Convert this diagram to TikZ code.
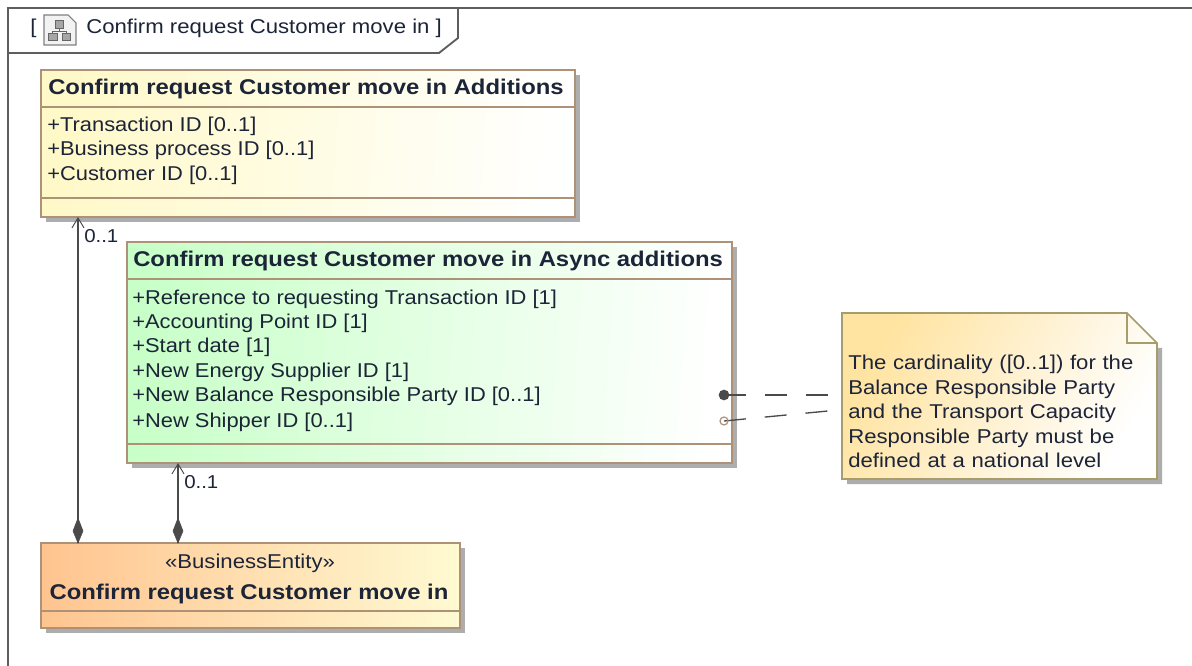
\documentclass[tikz,border=0pt]{standalone}
\usepackage{fontspec}
\setmainfont{Liberation Sans}
\newfontfamily\widef[FakeStretch=1.107]{Liberation Sans}
\newfontfamily\attrf[FakeStretch=1.095]{Liberation Sans}
\newfontfamily\wideb[FakeStretch=1.118]{Liberation Sans}
\usetikzlibrary{shadows,arrows.meta}
\definecolor{inkc}{HTML}{1C2438}
\definecolor{boxedge}{HTML}{AD9278}
\definecolor{noteedge}{HTML}{A69C6C}
\definecolor{conn}{HTML}{4A4A4A}
\definecolor{framec}{HTML}{5E5E5E}
\definecolor{yel}{HTML}{FFF9C8}
\definecolor{grn}{HTML}{C8FFC8}
\definecolor{org}{HTML}{FFC48F}
\definecolor{orgr}{HTML}{FFFAD2}
\definecolor{notec}{HTML}{FFE3A0}
\tikzset{
  x=0.75pt,y=-0.75pt,
  umlbox/.style={rectangle,draw=boxedge,line width=1.3pt,inner sep=0pt,outer sep=0pt,anchor=north west,
    drop shadow={shadow xshift=3.6pt,shadow yshift=-3.6pt,fill=black!32,opacity=1}},
  sep/.style={draw=boxedge,line width=1.1pt},
  bold/.style={font=\fontsize{16}{18}\selectfont\wideb\bfseries,text=inkc,inner sep=0pt,anchor=base west},
  attr/.style={font=\fontsize{15}{18}\selectfont\attrf,text=inkc,inner sep=0pt,anchor=base west},
  plain/.style={font=\fontsize{15}{18}\selectfont\widef,text=inkc,inner sep=0pt,anchor=base west},
  mult/.style={font=\fontsize{14}{16}\selectfont\attrf,text=inkc,inner sep=0pt,anchor=base west},
  assoc/.style={draw=conn,line width=1.3pt},
  opena/.style={-{Straight Barb[length=7.5pt,width=9pt,line width=0.7pt]}},
  diam/.style={fill=conn,draw=conn,line width=0.4pt},
  dashc/.style={draw=conn,line width=1pt,dash pattern=on 16.5pt off 14.2pt},
}
\begin{document}
\begin{tikzpicture}
\useasboundingbox (0,0) rectangle (1192,666);
\fill[white] (0,0) rectangle (1192,666);
% frame
\draw[framec,line width=1.4pt] (1192,8) -- (8,8) -- (8,666);
\draw[framec,line width=1.4pt] (8,53) -- (439,53) -- (458,38) -- (458,8);
\node[plain] (brl) at (30,34) {[};
\node[plain] (frametitle) at (86,34) {Confirm request Customer move in ]};
% icon
\draw[gray,fill=white!95!black,line width=0.8pt] (44,15) -- (68,15) -- (76,23) -- (76,45) -- (44,45) -- cycle;
\draw[black!60,fill=black!35,line width=0.7pt] (55,20) rectangle (63,28);
\draw[black!60,fill=black!35,line width=0.7pt] (48,33) rectangle (57,40);
\draw[black!60,fill=black!35,line width=0.7pt] (62,33) rectangle (70,40);
\draw[black!60,line width=0.7pt] (59,28) -- (59,31) (52,33) -- (52,31) -- (66,31) -- (66,33);
% Additions
\node[umlbox,minimum width=400.5pt,minimum height=110.25pt,left color=yel,right color=white,shading angle=86] (add) at (41,70) {};
\draw[sep] (41,107) -- (575,107) (41,198) -- (575,198);
\node[bold] (addt) at (48,95) {Confirm request Customer move in Additions};
\node[attr] (a1) at (47,132) {+Transaction ID [0..1]};
\node[attr] (a2) at (47,156) {+Business process ID [0..1]};
\node[attr] (a3) at (47,181) {+Customer ID [0..1]};
% Async
\node[umlbox,minimum width=453.75pt,minimum height=165.75pt,left color=grn,right color=white,shading angle=86] (async) at (127,242) {};
\draw[sep] (127,279) -- (732,279) (127,444) -- (732,444);
\node[bold] (asynct) at (133,267) {Confirm request Customer move in Async additions};
\node[attr] (b1) at (132,305) {+Reference to requesting Transaction ID [1]};
\node[attr] (b2) at (132,329) {+Accounting Point ID [1]};
\node[attr] (b3) at (132,353) {+Start date [1]};
\node[attr] (b4) at (132,378) {+New Energy Supplier ID [1]};
\node[attr] (b5) at (132,402) {+New Balance Responsible Party ID [0..1]};
\node[attr] (b6) at (132,427) {+New Shipper ID [0..1]};
% Entity
\node[umlbox,minimum width=314.25pt,minimum height=63.75pt,left color=org,right color=orgr] (ent) at (41,543) {};
\draw[sep] (41,611) -- (460,611);
\node[plain,anchor=base] (st) at (250,568) {«BusinessEntity»};
\node[bold,anchor=base] (entt) at (249,599) {Confirm request Customer move in};
% associations
\coordinate (x1) at (78,0);
\coordinate (x2) at (178,0);
\draw[assoc,opena] (ent.north -| x1) -- (add.south -| x1);
\draw[assoc,opena] (ent.north -| x2) -- (async.south -| x2);
\draw[diam] (78,543) -- (73,531) -- (78,518) -- (83,531) -- cycle;
\draw[diam] (178,543) -- (173,531) -- (178,518) -- (183,531) -- cycle;
\node[mult] (m1) at (84,243) {0..1};
\node[mult] (m2) at (184,488) {0..1};
% note
\fill[black!32] (847,343) -- (1162,348) -- (1162,484) -- (847,484) -- cycle;
\path[left color=notec,right color=white,shading angle=60] (842,313) -- (1127,313) -- (1157,343) -- (1157,479) -- (842,479) -- cycle;
\draw[noteedge,line width=1.3pt] (842,313) -- (1127,313) -- (1157,343) -- (1157,479) -- (842,479) -- cycle;
\draw[noteedge,line width=1.1pt] (1127,313) -- (1127,343) -- (1157,343);
\node[plain,font=\fontsize{15}{18.4}\selectfont\widef,align=left,anchor=north west,text width=232pt] (note) at (848,355) {The cardinality ([0..1]) for the\\Balance Responsible Party\\and the Transport Capacity\\Responsible Party must be\\defined at a national level};
% note connectors
\coordinate (n1) at (828,395);
\coordinate (n2) at (828,411);
\coordinate (d1) at (724,395);
\coordinate (d2) at (724,421);
\draw[dashc] (d1) -- (n1);
\draw[dashc] (d2) -- (n2);
\fill[conn] (d1) circle (4pt);
\draw[boxedge,line width=0.9pt] (d2) circle (3pt);
\end{tikzpicture}
\end{document}
